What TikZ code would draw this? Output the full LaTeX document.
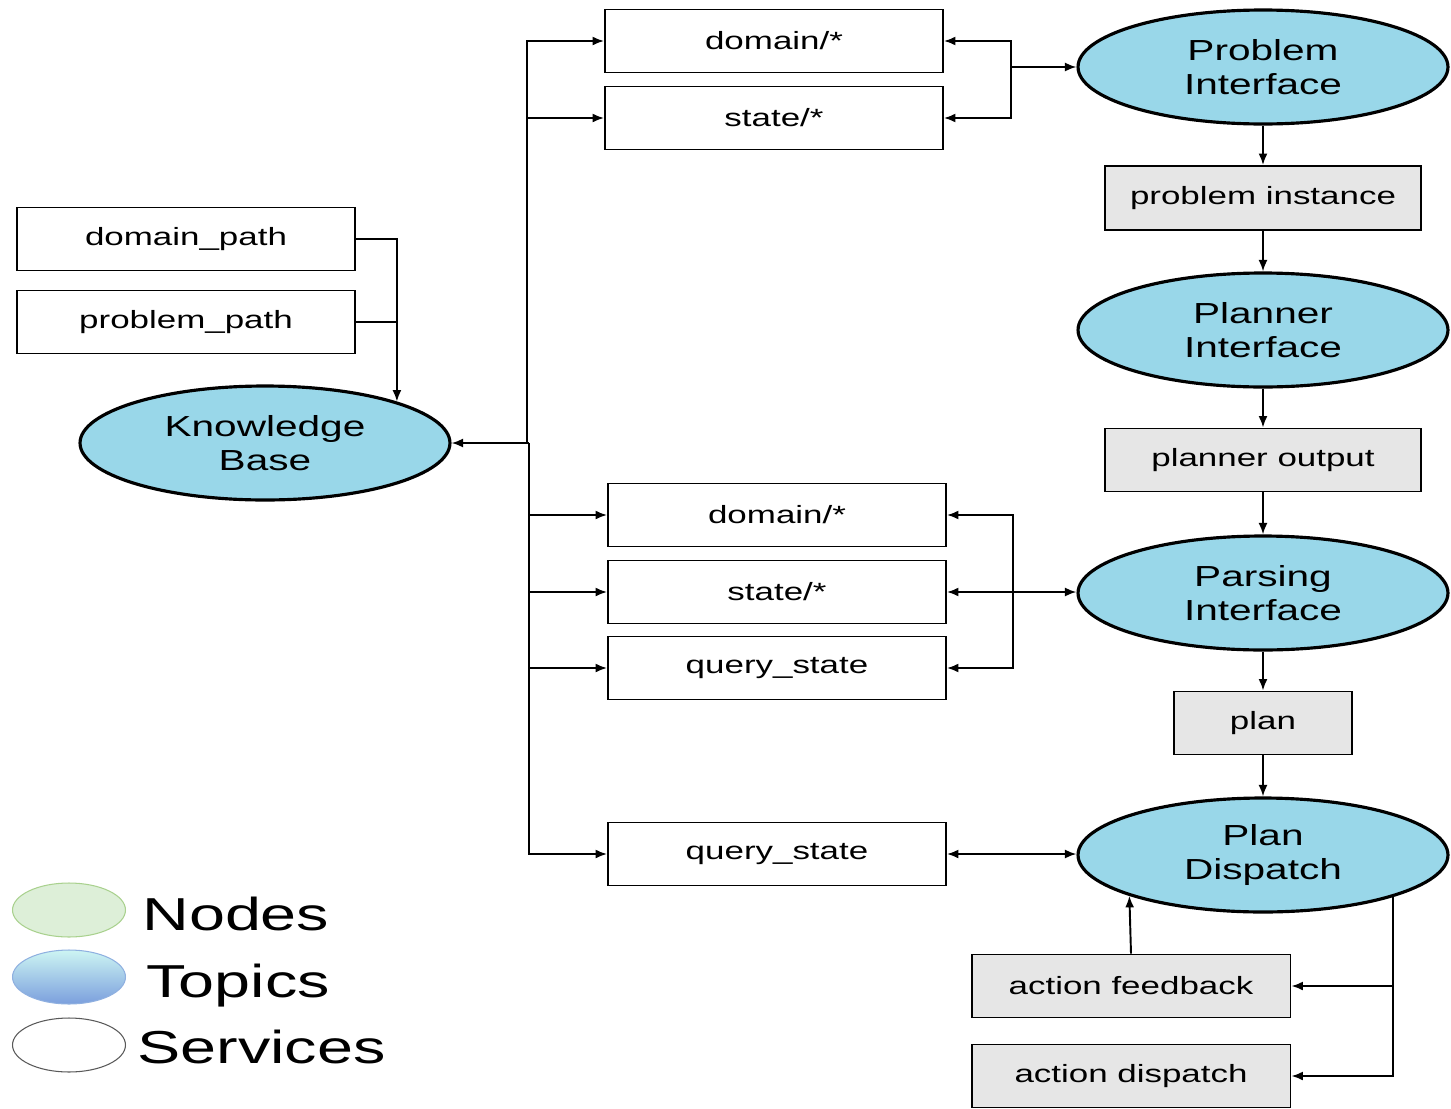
\documentclass[tikz,border=0pt]{standalone}
\usepackage{fontspec}
\setmainfont{Liberation Sans}[FakeStretch=1.4]
\usetikzlibrary{shapes.geometric,arrows.meta}
\definecolor{topicblue}{RGB}{153,215,233}
\definecolor{boxgray}{RGB}{230,230,230}
\definecolor{nodegreen}{RGB}{221,239,216}
\definecolor{nodegreenb}{RGB}{169,209,142}
\definecolor{legtop}{RGB}{205,245,243}
\definecolor{legbot}{RGB}{123,159,221}
\definecolor{legblueb}{RGB}{143,176,224}
\begin{document}
\begin{tikzpicture}[x=0.02cm,y=-0.02cm,
  svc/.style={draw=black, line width=1.1pt, minimum width=6.76cm, minimum height=1.26cm, inner sep=0pt, font=\fontsize{14.2}{16}\selectfont},
  topicbox/.style={svc, fill=boxgray},
  topic/.style={ellipse, draw=black, line width=1.8pt, fill=topicblue, minimum width=7.4cm, minimum height=2.28cm, inner sep=0pt, align=center, font=\fontsize{16.5}{19.4}\selectfont},
  arr/.style={line width=1.1pt, -{Latex[length=0.23cm,width=0.18cm]}},
  darr/.style={line width=1.1pt, {Latex[length=0.23cm,width=0.18cm]}-{Latex[length=0.23cm,width=0.18cm]}},
  ln/.style={line width=1.1pt},
  legell/.style={ellipse, minimum width=2.26cm, minimum height=1.08cm, inner sep=0pt},
  legtext/.style={anchor=base west, inner sep=0pt, font=\fontsize{26.3}{30}\selectfont}]
\useasboundingbox (0,0) rectangle (1451,1109);

% services (white boxes)
\node[svc] (dom1) at (774,41) {domain/*};
\node[svc] (st1) at (774,118) {state/*};
\node[svc] (dp) at (186,239) {domain\_path};
\node[svc] (pp) at (186,322) {problem\_path};
\node[svc] (dom2) at (777,515) {domain/*};
\node[svc] (st2) at (777,592) {state/*};
\node[svc] (qs1) at (777,668) {query\_state};
\node[svc] (qs2) at (777,854) {query\_state};

% topic ellipses
\node[topic] (kb) at (265,443) {Knowledge\\Base};
\node[topic] (pi) at (1263,67) {Problem\\Interface};
\node[topic] (pl) at (1263,330) {Planner\\Interface};
\node[topic] (pa) at (1263,593) {Parsing\\Interface};
\node[topic] (pd) at (1263,855) {Plan\\Dispatch};

% grey boxes
\node[topicbox, minimum width=6.32cm, minimum height=1.28cm] (pins) at (1263,198) {problem instance};
\node[topicbox, minimum width=6.32cm] (pout) at (1263,460) {planner output};
\node[topicbox, minimum width=3.56cm] (plan) at (1263,723) {plan};
\node[topicbox, minimum width=6.38cm] (af) at (1131,986) {action feedback};
\node[topicbox, minimum width=6.38cm] (ad) at (1131,1076) {action dispatch};

% left bus
\coordinate (kbj1) at (527,443);
\coordinate (kbj2) at (529,443);
\draw[ln] (kbj1) -- (kbj2);
\draw[arr] (kbj1) |- (dom1.west);
\draw[arr] (kbj1) |- (st1.west);
\draw[arr] (kbj2) -- (kb.east);
\draw[arr] (kbj2) |- (dom2.west);
\draw[arr] (kbj2) |- (st2.west);
\draw[arr] (kbj2) |- (qs1.west);
\draw[arr] (kbj2) |- (qs2.west);

% paths into knowledge base
\draw[arr] (dp.east) -| (kb.north east);
\draw[ln] (pp.east) -- (pp.east -| kb.north east);

% problem interface
\coordinate (pij) at (1011,67);
\draw[arr] (pij) |- (dom1.east);
\draw[arr] (pij) |- (st1.east);
\draw[arr] (pij) -- (pi.west);

% parsing interface
\coordinate (paj) at (1013,592);
\draw[arr] (paj) |- (dom2.east);
\draw[arr] (paj) |- (qs1.east);
\draw[darr] (st2.east) -- (st2.east -| pa.west);

% plan dispatch
\draw[darr] (qs2.east) -- (qs2.east -| pd.west);

% chain
\draw[arr] (pi) -- (pins);
\draw[arr] (pins) -- (pl);
\draw[arr] (pl) -- (pout);
\draw[arr] (pout) -- (pa);
\draw[arr] (pa) -- (plan);
\draw[arr] (plan) -- (pd);

% action feedback / dispatch
\draw[arr] (af.north) -- (pd.197);
\draw[arr] (pd.342) |- (af.east);
\draw[arr] (pd.342) |- (ad.east);

% legend
\node[legell, draw=nodegreenb, fill=nodegreen, line width=0.6pt] (lgn) at (69,910) {};
\node[legell, draw=legblueb, top color=legtop, bottom color=legbot, line width=0.6pt] (lgt) at (69,977) {};
\node[legell, draw=black!65, fill=white, line width=0.6pt] (lgs) at (69,1045) {};
\node[legtext] (lgnt) at (142,930) {Nodes};
\node[legtext] (lgtt) at (146,997) {Topics};
\node[legtext] (lgst) at (137,1063) {Services};
\end{tikzpicture}
\end{document}
